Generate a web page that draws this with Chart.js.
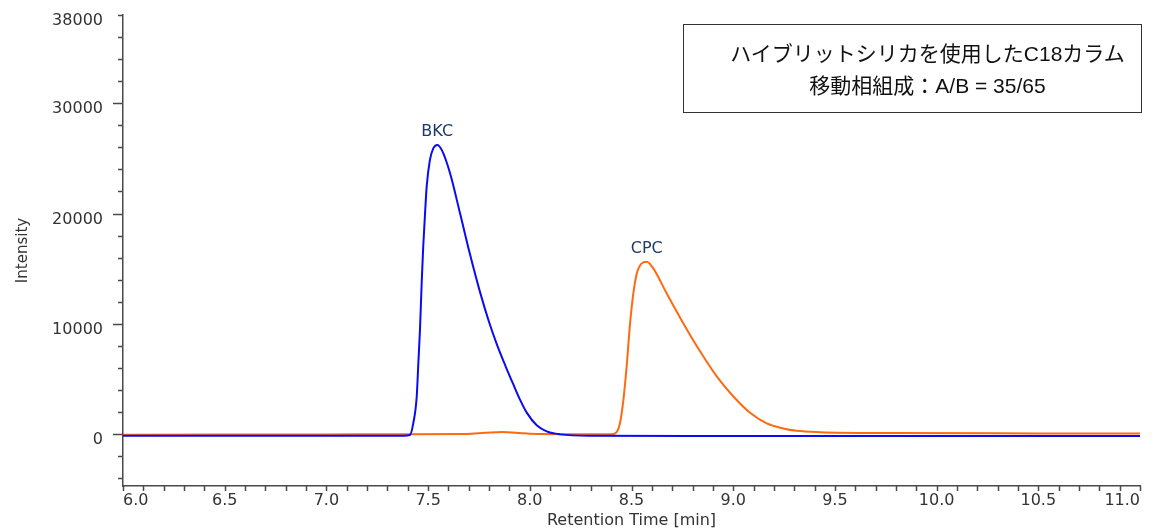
<!DOCTYPE html>
<html>
<head>
<meta charset="utf-8">
<script src="https://cdn.jsdelivr.net/npm/chart.js@4.4.1/dist/chart.umd.min.js"></script>
<style>
    body { margin: 0; background: #ffffff; }
    #wrap { position: relative; width: 1164px; height: 530px; }
    #note {
        position: absolute;
        left: 683px;
        top: 24px;
        width: 459px;
        height: 89px;
        border: 1px solid #333333;
        box-sizing: border-box;
        text-align: center;
        font-family: "Liberation Sans", "Noto Sans CJK JP", sans-serif;
        font-size: 21px;
        line-height: 32px;
        color: #111111;
        padding-top: 13px;
        padding-left: 30px;
    }
</style>
</head>
<body>
<div id="wrap">
    <canvas id="chart" width="1164" height="530"></canvas>
    <div id="note">ハイブリットシリカを使用したC18カラム<br>移動相組成：A/B = 35/65</div>
</div>
<script>
// BKC trace (blue)
const bkcTimes = [6.0, 6.5, 7.0, 7.38, 7.411, 7.427, 7.444, 7.452, 7.460, 7.469, 7.476, 7.485, 7.493, 7.509,
    7.526, 7.545, 7.567, 7.608, 7.657, 7.706, 7.755, 7.80, 7.839, 7.88, 7.918, 7.95, 7.985, 8.034, 8.083,
    8.15, 8.3, 9.0, 10.0, 11.0];
const bkcIntensity = [-150, -150, -150, -150, -80, 971, 3390, 6415, 9437, 13970, 16995, 20020, 22440, 24860,
    25930, 26225, 25770, 23655, 20020, 16300, 12900, 10150, 8100, 6200, 4550, 3200, 1950, 800, 250,
    -20, -140, -160, -170, -170];

// CPC trace (orange)
const cpcTimes = [6.0, 6.5, 7.0, 7.4, 7.69, 7.78, 7.863, 7.95, 8.0, 8.2, 8.4, 8.419, 8.443, 8.460, 8.476, 8.493,
    8.509, 8.526, 8.550, 8.575, 8.607, 8.673, 8.755, 8.837, 8.919, 9.001, 9.083, 9.165, 9.246, 9.312, 9.427,
    9.8, 10.5, 11.0];
const cpcIntensity = [-50, -40, -20, 0, 20, 120, 200, 110, 30, 0, 0, 60, 970, 3085, 6110, 10040,
    12765, 14575, 15480, 15640, 15030, 12765, 10040, 7510, 5240, 3415, 1935, 970, 515, 300, 180,
    100, 70, 60];

const peakNames = ['BKC', 'CPC'];

const xTickValues = [6.0, 6.5, 7.0, 7.5, 8.0, 8.5, 9.0, 9.5, 10.0, 10.5, 11.0];
const yTickValues = [0, 10000, 20000, 30000, 38000];

const axisColor = '#4a4a4a';
const textColor = '#333333';

const toPoints = (xs, ys) => xs.map((x, i) => ({ x: x, y: ys[i] }));

// minor tick marks + peak labels
const decorPlugin = {
    id: 'decor',
    afterDraw(chart) {
        const ctx = chart.ctx;
        const xs = chart.scales.x;
        const ys = chart.scales.y;
        const area = chart.chartArea;

        ctx.save();
        ctx.strokeStyle = axisColor;
        ctx.lineWidth = 1.5;
        ctx.beginPath();
        for (let v = -4000; v <= 38000; v += 2000) {
            const py = Math.round(ys.getPixelForValue(v)) + 0.5;
            const len = (v % 10000 === 0 && v <= 30000) ? 10 : 5;
            ctx.moveTo(area.left, py);
            ctx.lineTo(area.left - len, py);
        }
        for (let i = 0; i <= 50; i++) {
            const v = 6 + i * 0.1;
            const px = Math.round(xs.getPixelForValue(v)) + 0.5;
            ctx.moveTo(px, area.bottom);
            ctx.lineTo(px, area.bottom + 5);
        }
        ctx.stroke();

        // peak labels above each apex
        ctx.fillStyle = '#1d3b68';
        ctx.font = '16px "DejaVu Sans"';
        ctx.textAlign = 'center';
        ctx.textBaseline = 'middle';
        chart.data.datasets.forEach((ds, i) => {
            let top = ds.data[0];
            ds.data.forEach(p => { if (p.y > top.y) top = p; });
            ctx.fillText(peakNames[i], xs.getPixelForValue(top.x), ys.getPixelForValue(top.y) - 13);
        });
        ctx.restore();
    }
};

new Chart(document.getElementById('chart'), {
    type: 'line',
    data: {
        datasets: [
            {
                label: 'BKC',
                data: toPoints(bkcTimes, bkcIntensity),
                borderColor: '#0a0af5',
                borderWidth: 2,
                pointRadius: 0,
                cubicInterpolationMode: 'monotone',
                fill: false
            },
            {
                label: 'CPC',
                data: toPoints(cpcTimes, cpcIntensity),
                borderColor: '#ff6a10',
                borderWidth: 2,
                pointRadius: 0,
                cubicInterpolationMode: 'monotone',
                fill: false
            }
        ]
    },
    options: {
        responsive: false,
        animation: false,
        layout: { padding: { top: 15, right: 24, left: 0, bottom: 0 } },
        plugins: {
            legend: { display: false },
            tooltip: { enabled: false }
        },
        scales: {
            x: {
                type: 'linear',
                min: 6.0,
                max: 11.0,
                afterFit: (scale) => { scale.height = 44; scale.paddingLeft = 0; scale.paddingRight = 0; },
                afterBuildTicks: (scale) => { scale.ticks = xTickValues.map(v => ({ value: v })); },
                grid: { display: false, drawTicks: false },
                border: { display: true, color: axisColor, width: 1.5 },
                ticks: {
                    autoSkip: false,
                    maxRotation: 0,
                    align: 'inner',
                    padding: 5,
                    color: textColor,
                    font: { family: '"DejaVu Sans"', size: 16 },
                    callback: (v) => Number(v).toFixed(1)
                },
                title: {
                    display: true,
                    text: 'Retention Time [min]',
                    color: textColor,
                    padding: { top: 0, bottom: 0 },
                    font: { family: '"DejaVu Sans"', size: 16 }
                }
            },
            y: {
                type: 'linear',
                min: -4700,
                max: 38000,
                afterFit: (scale) => { scale.width = 123; scale.paddingTop = 0; scale.paddingBottom = 0; },
                afterBuildTicks: (scale) => { scale.ticks = yTickValues.map(v => ({ value: v })); },
                grid: { display: false, drawTicks: false },
                border: { display: true, color: axisColor, width: 1.5 },
                ticks: {
                    padding: 20,
                    labelOffset: 6,
                    color: textColor,
                    font: { family: '"DejaVu Sans"', size: 16 },
                    callback: (v) => String(v)
                },
                title: {
                    display: true,
                    text: 'Intensity',
                    color: textColor,
                    padding: { top: 14, bottom: 0 },
                    font: { family: '"DejaVu Sans"', size: 15 }
                }
            }
        }
    },
    plugins: [decorPlugin]
});
</script>
</body>
</html>
